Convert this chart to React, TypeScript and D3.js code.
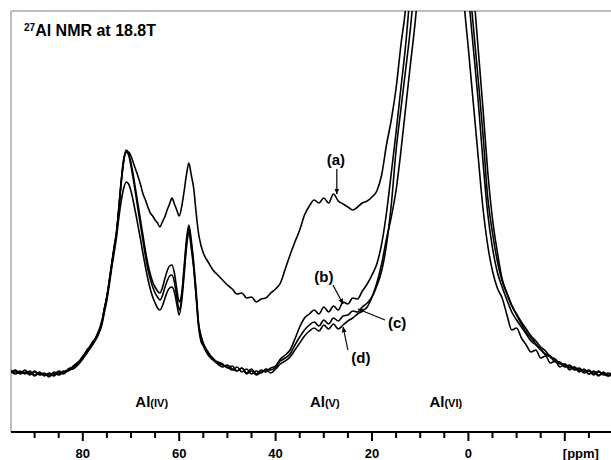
import React from 'react';
import * as d3 from 'd3';

const WIDTH = 611;
const HEIGHT = 460;

// chemical shift grid (ppm), finer around the Al(IV) peaks
const PPM = [
  95, 94, 93, 92, 91, 90, 89, 88, 87, 86, 85, 84, 83, 82, 81, 80, 79, 78, 77, 76,
  75.5, 75, 74.5, 74, 73.5, 73, 72.5, 72, 71.5, 71, 70.5, 70, 69.5, 69, 68.5, 68,
  67.5, 67, 66.5, 66, 65.5, 65, 64.5, 64, 63.5, 63, 62.5, 62, 61.5, 61, 60.5, 60,
  59.5, 59, 58.5, 58, 57.5, 57, 56.5, 56, 55.5, 55,
  54, 53, 52, 51, 50, 49, 48, 47, 46, 45, 44, 43, 42, 41, 40, 39, 38, 37, 36, 35,
  34, 33, 32, 31, 30, 29, 28, 27, 26, 25, 24, 23, 22, 21, 20, 19, 18, 17, 16, 15,
  14, 13, 12, 11, 10, 9, 8, 7, 6, 5, 4, 3, 2, 1, 0, -1, -2, -3, -4, -5,
  -6, -7, -8, -9, -10, -11, -12, -13, -14, -15, -16, -17, -18, -19, -20, -21, -22, -23, -24, -25,
  -26, -27, -28, -29, -30,
];

const SPEC_A = [
  0, 1, -1, 2, -2, 0, -3, -2, -4, -1, -3, 0, 2, 4, 9, 16, 22, 29, 37, 52,
  64, 75, 91, 108, 124, 139, 165, 192, 212, 220, 220, 216, 209, 202, 195, 187,
  178, 172, 165, 159, 156, 152, 149, 145, 150, 155, 162, 168, 174, 168, 162, 156,
  165, 180, 197, 209, 197, 184, 160, 139, 127, 119,
  110, 102, 97, 92, 87, 83, 78, 79, 74, 75, 70, 73, 74, 79, 83, 89, 103, 117, 130, 142,
  157, 166, 172, 169, 174, 169, 178, 171, 168, 165, 162, 165, 169, 171, 175, 181, 197, 227, 252, 284,
  327, 365, 430, 500, 560, 610, 650, 680, 690, 680, 650, 600, 450, 375, 323, 270, 217, 165, 127, 101,
  84, 74, 57, 42, 44, 34, 27, 20, 22, 14, 16, 9, 11, 5, 8, 2, 5, 0, 3, -2,
  1, -3, 0, -4, -1,
];

const SPEC_B = [
  2, -1, 1, -2, 1, -3, 0, -4, -1, -3, 1, -1, 3, 5, 8, 15, 23, 28, 38, 50,
  63, 76, 90, 107, 125, 141, 166, 193, 213, 222, 219, 209, 196, 181, 166, 151,
  136, 121, 108, 98, 90, 85, 81, 79, 84, 93, 101, 106, 107, 99, 83, 70,
  78, 104, 132, 147, 132, 110, 82, 50, 37, 29,
  20, 13, 10, 8, 4, 6, 1, 4, -1, 3, -2, 2, 0, 4, 6, 13, 17, 22, 33, 45,
  54, 58, 62, 58, 65, 60, 66, 62, 70, 68, 74, 73, 81, 88, 97, 108, 128, 159, 199, 240,
  284, 328, 385, 450, 520, 580, 630, 660, 670, 660, 630, 580, 500, 430, 377, 325, 273, 212, 159, 124,
  100, 85, 72, 60, 52, 45, 38, 31, 27, 22, 18, 16, 11, 10, 6, 7, 3, 4, 0, 2,
  -2, 1, -3, -1, -3,
];

const SPEC_C = [
  -1, 2, -2, 0, -3, 1, -2, -1, -5, 0, -2, 1, 1, 6, 10, 14, 21, 30, 36, 51,
  64, 75, 92, 109, 124, 139, 164, 190, 211, 220, 217, 206, 192, 177, 161, 146,
  131, 116, 103, 93, 85, 79, 75, 72, 76, 84, 91, 96, 97, 90, 75, 62,
  74, 100, 128, 144, 128, 106, 78, 48, 33, 27,
  18, 14, 9, 7, 5, 2, 5, 0, 3, -2, 1, -1, 3, 2, 5, 11, 14, 18, 27, 35,
  42, 47, 50, 46, 52, 48, 54, 51, 56, 57, 61, 60, 65, 69, 75, 86, 101, 127, 167, 222,
  263, 303, 345, 400, 470, 540, 600, 640, 660, 655, 630, 590, 530, 460, 399, 347, 294, 239, 175, 139,
  111, 91, 78, 66, 57, 48, 40, 34, 28, 23, 17, 15, 10, 9, 5, 6, 2, 3, -1, 1,
  -3, 0, -2, -4, -2,
];

const SPEC_D = [
  1, -2, 0, -1, 0, -4, -1, -3, -2, -4, 0, -2, 2, 3, 7, 13, 20, 27, 35, 48,
  60, 72, 87, 104, 119, 135, 155, 172, 184, 190, 188, 181, 170, 158, 145, 132,
  118, 105, 93, 83, 75, 69, 64, 62, 66, 73, 80, 84, 85, 80, 68, 57,
  70, 96, 124, 140, 124, 104, 76, 46, 31, 26,
  17, 12, 8, 5, 7, 3, 1, 4, -2, 1, -3, 0, 2, -1, 3, 8, 11, 15, 22, 29,
  36, 41, 44, 41, 47, 43, 48, 43, 47, 51, 54, 58, 61, 65, 75, 89, 108, 133, 155, 182,
  221, 265, 309, 352, 410, 480, 550, 600, 630, 640, 625, 590, 540, 490, 444, 385, 325, 265, 201, 153,
  120, 93, 79, 67, 58, 50, 43, 36, 31, 25, 21, 15, 13, 8, 8, 4, 5, 1, 2, -2,
  0, -4, -1, -3, 0,
];

const SPECTRA = [SPEC_A, SPEC_B, SPEC_C, SPEC_D];

const MAJOR_TICKS = [80, 60, 40, 20, 0, -20];
const MINOR_TICKS = [90, 85, 75, 70, 65, 55, 50, 45, 35, 30, 25, 15, 10, 5, -5, -10, -15, -25];
const TICK_LABELS = ['80', '60', '40', '20', '0'];
const UNIT_LABEL = '[ppm]';

// site labels: main text, subscript-ish part, ppm centre
const SITE_MAIN = ['Al', 'Al', 'Al'];
const SITE_SUB = ['(IV)', '(V)', '(VI)'];
const SITE_PPM = [65.7, 29.8, 4.7];
const SITE_LEVEL = -35;

// call-outs (ppm, intensity): label, tail, tip
const CALL_LABELS = ['(a)', '(b)', '(c)', '(d)'];
const CALL_TEXT = [[27.5, 207], [30.0, 90], [14.8, 44], [22.3, 9]];
const CALL_TAIL = [[27.3, 203], [28.1, 87], [17.3, 52], [25.0, 22]];
const CALL_TIP = [[27.3, 178], [26.0, 68], [22.9, 63], [26.0, 45]];

const FONT = 'Arial, "Liberation Sans", Helvetica, sans-serif';

const App = () => {
  const left = 11;
  const top = 11;
  const right = 611;
  const bottom = 432;

  const xScale = d3.scaleLinear().domain([95, -30]).range([10.5, 613]);
  const yScale = d3.scaleLinear().domain([0, 361]).range([372, 11]);

  const line = d3.line<number>()
    .x((d, i) => xScale(PPM[i]))
    .y(d => yScale(d))
    .curve(d3.curveMonotoneX);

  return (
    <svg width={WIDTH} height={HEIGHT} style={{ position: 'absolute', left: 0, top: 0, background: '#fff' }}
      fontFamily={FONT}>
      <defs>
        <clipPath id='plot-clip'>
          <rect x={left} y={top} width={right - left} height={bottom - top} />
        </clipPath>
        <marker id='arrow' viewBox='0 0 10 10' refX='9' refY='5' markerWidth='6' markerHeight='6'
          markerUnits='userSpaceOnUse' orient='auto'>
          <path d='M0,1 L10,5 L0,9 Z' fill='#000' />
        </marker>
      </defs>

      {/* frame */}
      <line x1={left} y1={top} x2={right} y2={top} stroke='#a8a8a8' strokeWidth='1.5' />
      <line x1={left} y1={top} x2={left} y2={bottom} stroke='#a8a8a8' strokeWidth='1.5' />

      {/* spectra */}
      <g clipPath='url(#plot-clip)'>
        {SPECTRA.map((s, i) => (
          <path key={i} d={line(s) || ''} fill='none' stroke='#000' strokeWidth='1.6' strokeLinejoin='round' />
        ))}
      </g>

      {/* x axis */}
      <line x1={left} y1={bottom} x2={right} y2={bottom} stroke='#000' strokeWidth='2' />
      {MAJOR_TICKS.map(t => (
        <line key={'M' + t} x1={xScale(t)} x2={xScale(t)} y1={bottom} y2={bottom + 9} stroke='#000' strokeWidth='2' />
      ))}
      {MINOR_TICKS.map(t => (
        <line key={'m' + t} x1={xScale(t)} x2={xScale(t)} y1={bottom} y2={bottom + 6} stroke='#000' strokeWidth='2' />
      ))}
      {TICK_LABELS.map((lab, i) => (
        <text key={lab} x={xScale(MAJOR_TICKS[i])} y={458} textAnchor='middle' fontSize='13' fontWeight='bold'>{lab}</text>
      ))}
      <text x={xScale(-20) - 2} y={458} fontSize='13' fontWeight='bold'>{UNIT_LABEL}</text>

      {/* title */}
      <text x={left + 13} y={top + 25} fontWeight='bold'>
        <tspan fontSize='10' dy='-5'>27</tspan>
        <tspan fontSize='16' dy='5'>Al NMR at 18.8T</tspan>
      </text>

      {/* site labels */}
      {SITE_PPM.map((p, i) => (
        <text key={i} x={xScale(p)} y={yScale(SITE_LEVEL)} textAnchor='middle' fontWeight='bold'>
          <tspan fontSize='15'>{SITE_MAIN[i]}</tspan>
          <tspan fontSize='11'>{SITE_SUB[i]}</tspan>
        </text>
      ))}

      {/* call-outs */}
      {CALL_LABELS.map((lab, i) => (
        <g key={lab}>
          <line x1={xScale(CALL_TAIL[i][0])} y1={yScale(CALL_TAIL[i][1])}
            x2={xScale(CALL_TIP[i][0])} y2={yScale(CALL_TIP[i][1])}
            stroke='#000' strokeWidth='1.2' markerEnd='url(#arrow)' />
          <text x={xScale(CALL_TEXT[i][0])} y={yScale(CALL_TEXT[i][1])} textAnchor='middle'
            fontSize='15' fontWeight='bold'>{lab}</text>
        </g>
      ))}
    </svg>
  );
};

export default App;
